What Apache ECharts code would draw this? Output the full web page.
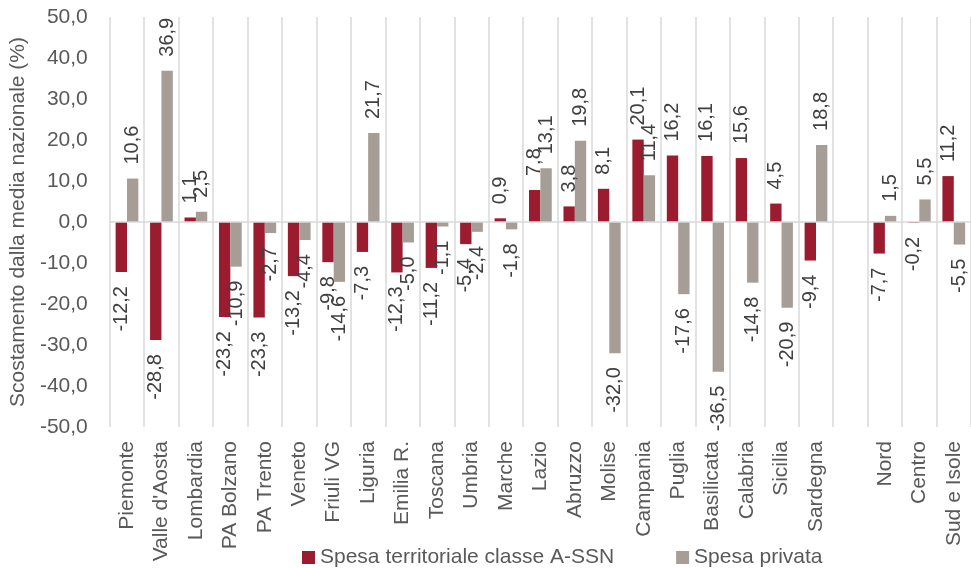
<!DOCTYPE html>
<html>
<head>
<meta charset="utf-8">
<script src="https://cdn.jsdelivr.net/npm/echarts@6/dist/echarts.min.js"></script>
<style>
  html, body { margin: 0; padding: 0; background: #fff; }
  #myChart { width: 971px; height: 568px; }
</style>
</head>
<body>
<div id="myChart"></div>
<script>
// categorie (la voce vuota separa le regioni dalle macro-aree)
const regioni = ['Piemonte', "Valle d'Aosta", 'Lombardia', 'PA Bolzano', 'PA Trento', 'Veneto', 'Friuli VG',
  'Liguria', 'Emilia R.', 'Toscana', 'Umbria', 'Marche', 'Lazio', 'Abruzzo', 'Molise', 'Campania',
  'Puglia', 'Basilicata', 'Calabria', 'Sicilia', 'Sardegna', '', 'Nord', 'Centro', 'Sud e Isole'];

const spesaSSN = [-12.2, -28.8, 1.1, -23.2, -23.3, -13.2, -9.8, -7.3, -12.3, -11.2, -5.4, 0.9, 7.8, 3.8,
  8.1, 20.1, 16.2, 16.1, 15.6, 4.5, -9.4, null, -7.7, -0.2, 11.2];

const spesaPrivata = [10.6, 36.9, 2.5, -10.9, -2.7, -4.4, -14.6, 21.7, -5.0, -1.1, -2.4, -1.8, 13.1, 19.8,
  -32.0, 11.4, -17.6, -36.5, -14.8, -20.9, 18.8, null, 1.5, 5.5, -5.5];

const nomiSerie = ['Spesa territoriale classe A-SSN', 'Spesa privata'];
const colori = ['#9B1C2F', '#A69E96'];

const font = 'Liberation Sans';
const grigioTesto = '#595959';

function fmt(v) {
  return Number(v).toFixed(1).replace('.', ',');
}

// etichetta ruotata: sopra la barra se positiva, sotto se negativa
function mkData(list) {
  return list.map(v => {
    if (v === null) return '-';
    return {
      value: v,
      label: {
        position: v >= 0 ? 'top' : 'bottom',
        align: v >= 0 ? 'left' : 'right'
      }
    };
  });
}

let myChart = echarts.init(document.getElementById('myChart'));

let serie = [spesaSSN, spesaPrivata].map((list, i) => ({
  name: nomiSerie[i],
  type: 'bar',
  barWidth: '33%',
  barGap: '0%',
  data: mkData(list),
  itemStyle: { color: colori[i] },
  label: {
    show: true,
    rotate: 90,
    verticalAlign: 'middle',
    distance: 14,
    offset: [0, 0],
    color: '#404040',
    fontFamily: font,
    fontSize: 20,
    formatter: p => fmt(p.value)
  }
}));

// linea dello zero
serie[0].markLine = {
  silent: true,
  symbol: 'none',
  label: { show: false },
  lineStyle: { color: '#d9d9d9', width: 1.5, type: 'solid' },
  data: [{ yAxis: 0 }]
};

myChart.setOption({
  animation: false,
  textStyle: { fontFamily: font },
  grid: {
    left: 109,
    right: 0,
    top: 17,
    bottom: 141
  },
  legend: {
    left: 297,
    top: 542,
    itemWidth: 13,
    itemHeight: 13,
    itemGap: 62,
    icon: 'rect',
    textStyle: { color: grigioTesto, fontSize: 21, fontFamily: font },
    data: nomiSerie
  },
  xAxis: {
    type: 'category',
    data: regioni,
    axisLine: { show: false },
    axisTick: { show: false },
    axisLabel: {
      interval: 0,
      rotate: 90,
      margin: 14,
      color: grigioTesto,
      fontSize: 21,
      fontFamily: font
    },
    splitLine: {
      show: true,
      interval: 0,
      lineStyle: { color: '#d9d9d9', width: 1.5 }
    }
  },
  yAxis: {
    type: 'value',
    min: -50,
    max: 50,
    interval: 10,
    name: 'Scostamento dalla media nazionale (%)',
    nameLocation: 'middle',
    nameGap: 78,
    nameTextStyle: { color: grigioTesto, fontSize: 21, fontFamily: font },
    axisLine: { show: false },
    axisTick: { show: false },
    splitLine: { show: false },
    axisLabel: {
      margin: 22,
      color: grigioTesto,
      fontSize: 21,
      fontFamily: font,
      formatter: v => fmt(v)
    }
  },
  series: serie
});
</script>
</body>
</html>
